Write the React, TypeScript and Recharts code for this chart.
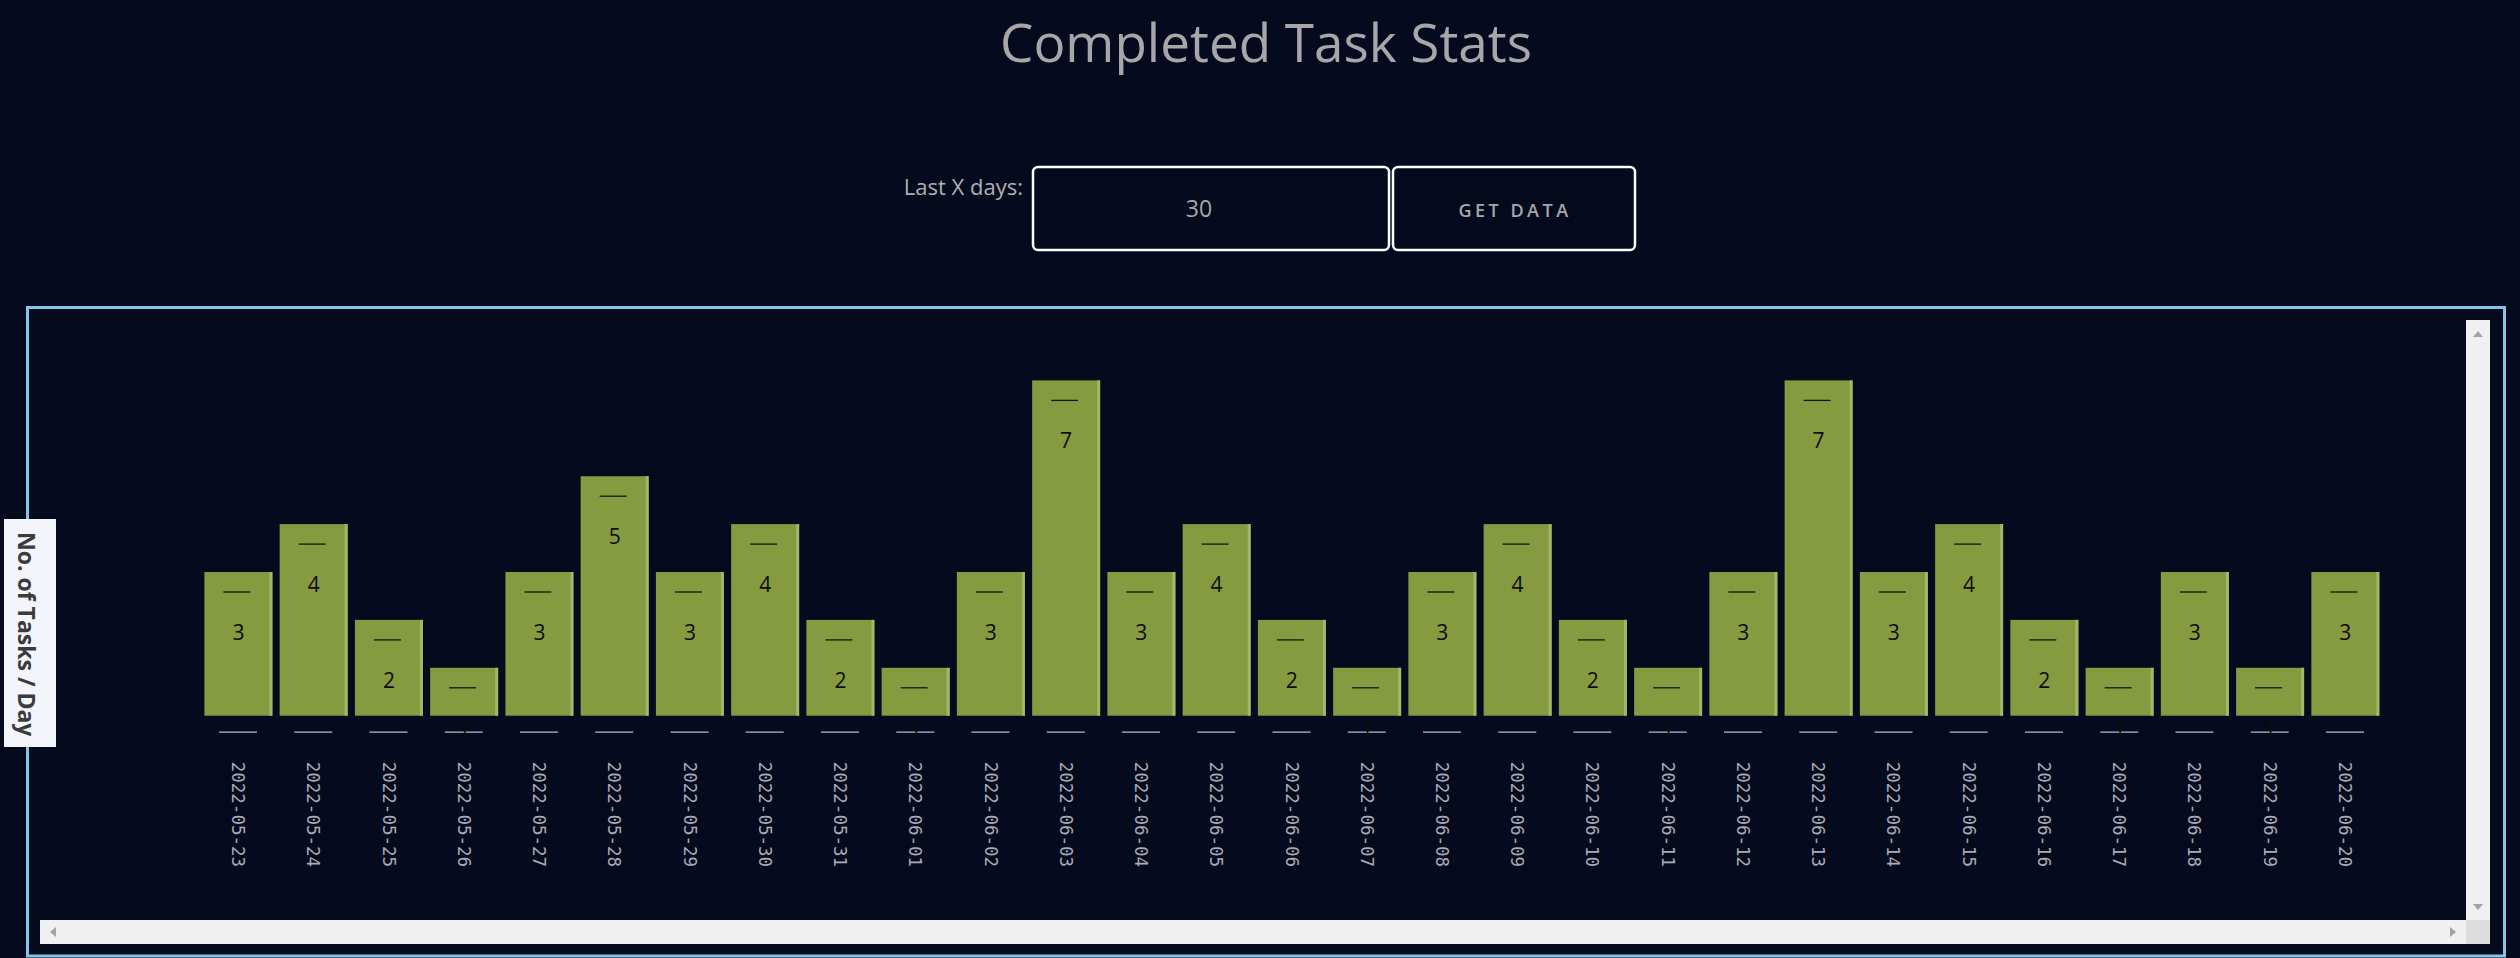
import React from 'react';
import { BarChart, Bar, XAxis, YAxis, LabelList } from 'recharts';

const dates = [
  '2022-05-23', '2022-05-24', '2022-05-25', '2022-05-26', '2022-05-27', '2022-05-28',
  '2022-05-29', '2022-05-30', '2022-05-31', '2022-06-01', '2022-06-02', '2022-06-03',
  '2022-06-04', '2022-06-05', '2022-06-06', '2022-06-07', '2022-06-08', '2022-06-09',
  '2022-06-10', '2022-06-11', '2022-06-12', '2022-06-13', '2022-06-14', '2022-06-15',
  '2022-06-16', '2022-06-17', '2022-06-18', '2022-06-19', '2022-06-20',
];
const counts = [3, 4, 2, 1, 3, 5, 3, 4, 2, 1, 3, 7, 3, 4, 2, 1, 3, 4, 2, 1, 3, 7, 3, 4, 2, 1, 3, 1, 3];

const pageTitle = 'Completed Task Stats';
const daysLabel = 'Last X days:';
const daysValue = '30';
const buttonText = 'GET DATA';
const yLabel = 'No. of Tasks / Day';

const data = dates.map((date, i) => ({ date, count: counts[i] }));

const BG = '#050a1e';
const SANS = '"Open Sans", "Noto Sans", sans-serif';

function BarShape(props: any) {
  const { x, y, width, height } = props;
  if (!height) return null;
  return (
    <g>
      <rect x={x} y={y} width={width} height={height} fill="#869a3f" />
      <rect x={x + width - 3} y={y} width={3} height={height} fill="#a5b56c" />
    </g>
  );
}

function BarLabel(props: any) {
  const { x, y, width, value } = props;
  const cx = x + width / 2;
  return (
    <g>
      <line x1={cx - 15} x2={cx + 12} y1={y + 20} y2={y + 20} stroke="#151515" strokeWidth={1.3} />
      <text x={cx} y={y + 60} textAnchor="middle" dominantBaseline="central"
        fontFamily={SANS} fontSize={21} fill="#0d0d0d">{value}</text>
    </g>
  );
}

function DateTick(props: any) {
  const { x, y, payload } = props;
  return (
    <g>
      <line x1={x - 19} x2={x + 19} y1={y + 16.5} y2={y + 16.5} stroke="#b9b9c6" strokeWidth={1.2} />
      <text transform={`translate(${x},${y + 46}) rotate(90)`} textAnchor="start" dominantBaseline="central"
        fontFamily='"DejaVu Sans Mono", monospace' fontSize={17.5} fill="#aaaab4">{payload.value}</text>
    </g>
  );
}

function Page() {
  return (
    <svg width={2520} height={958} style={{ position: 'absolute', left: 0, top: 0 }}>
      <text x={1266} y={62} textAnchor="middle" fontFamily={SANS} fontSize={53} fill="#a9a6aa">{pageTitle}</text>

      <text x={1023} y={195} textAnchor="end" fontFamily={SANS} fontSize={22} fill="#b1aeb1">{daysLabel}</text>
      <rect x={1033} y={167} width={356} height={83} rx={5} fill="none" stroke="#ffffff" strokeWidth={2.5} />
      <text x={1199} y={217} textAnchor="middle" fontFamily={SANS} fontSize={23} fill="#a9a6aa">{daysValue}</text>
      <rect x={1393} y={167} width={242} height={83} rx={5} fill="none" stroke="#ffffff" strokeWidth={2.5} />
      <text x={1515} y={217} textAnchor="middle" fontFamily={SANS} fontSize={18} fontWeight={600}
        letterSpacing={3.5} fill="#a9a6aa">{buttonText}</text>

      <rect x={27.5} y={307.5} width={2477} height={648.5} fill="none" stroke="#87c5e6" strokeWidth={3} />

      {/* scrollbars of the chart box */}
      <rect x={40} y={920} width={2426} height={24} fill="#f0f0f0" />
      <rect x={2466} y={320} width={24} height={600} fill="#f0f0f0" />
      <rect x={2466} y={920} width={24} height={24} fill="#dcdcdc" />
      <polygon points="2473,337 2483,337 2478,331" fill="#a3a3a3" />
      <polygon points="2473,904 2483,904 2478,910" fill="#a3a3a3" />
      <polygon points="56,927 56,937 50,932" fill="#a3a3a3" />
      <polygon points="2450,927 2450,937 2456,932" fill="#a3a3a3" />

      <rect x={4} y={519} width={52} height={228} fill="#f4f5fa" />
      <text transform="translate(27,532) rotate(90)" textAnchor="start" dominantBaseline="central"
        fontFamily={SANS} fontSize={23} fontWeight={700} fill="#3b3b3b">{yLabel}</text>
    </svg>
  );
}

export default function App() {
  return (
    <div style={{ position: 'absolute', left: 0, top: 0, width: 2520, height: 958, background: BG, overflow: 'hidden' }}>
      <Page />
      <div style={{ position: 'absolute', left: 40, top: 320 }}>
        <BarChart width={2426} height={600} data={data}
          margin={{ top: 60.4, right: 83.4, bottom: 44.3, left: 160.4 }}>
          <XAxis dataKey="date" interval={0} height={160} tickLine={false} axisLine={false}
            tickSize={0} tickMargin={0} tick={<DateTick />} />
          <YAxis hide domain={[0, 'dataMax']} />
          <Bar dataKey="count" barSize={68} shape={<BarShape />} isAnimationActive={false}>
            <LabelList dataKey="count" content={<BarLabel />} />
          </Bar>
        </BarChart>
      </div>
    </div>
  );
}
